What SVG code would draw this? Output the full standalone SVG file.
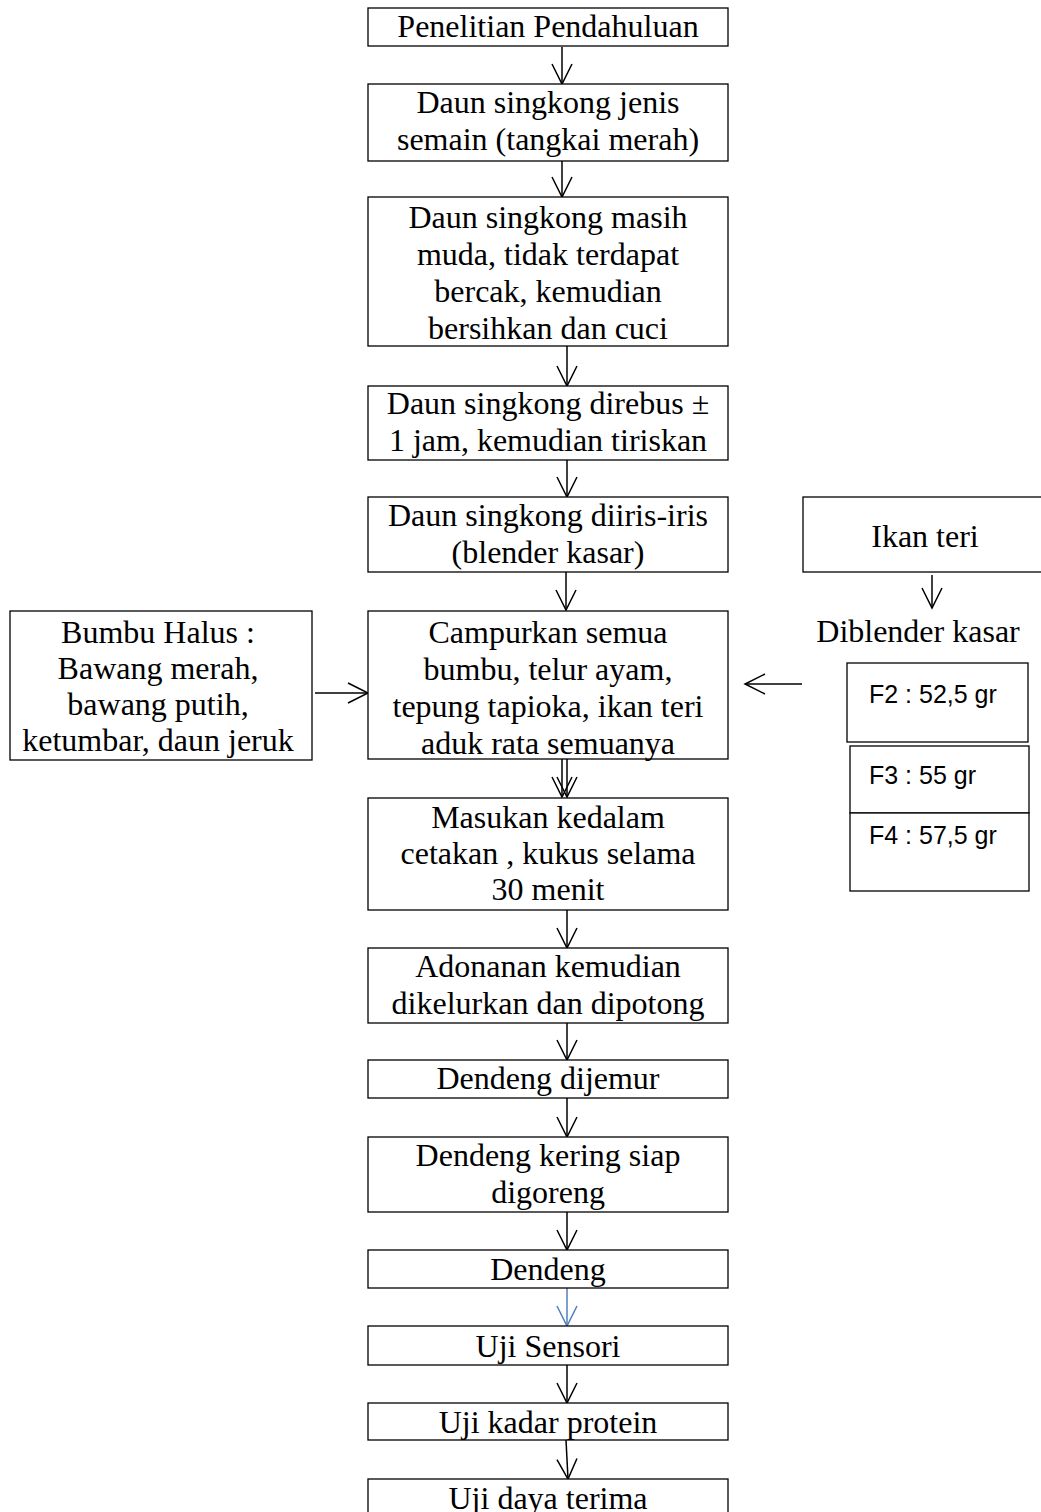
<svg xmlns="http://www.w3.org/2000/svg" width="1041" height="1512" viewBox="0 0 1041 1512">
<style>
.box{fill:#fff;stroke:#000;stroke-width:1.3}
.t{font-family:"Liberation Serif","Times New Roman",serif;font-size:32px;fill:#000;text-anchor:middle}
.s{font-family:"Liberation Sans",Arial,sans-serif;font-size:25px;fill:#000}
.c{fill:none;stroke:#000;stroke-width:1.5}
.cb{fill:none;stroke:#4f81bd;stroke-width:1.5}
</style>
<defs>
<marker id="ah" markerUnits="userSpaceOnUse" markerWidth="22" markerHeight="22" viewBox="0 0 22 22" refX="20" refY="11" orient="auto" overflow="visible">
<path d="M0,1 L20,11 L0,21" fill="none" stroke="#000" stroke-width="1.5"/>
</marker>
<marker id="ahb" markerUnits="userSpaceOnUse" markerWidth="22" markerHeight="22" viewBox="0 0 22 22" refX="20" refY="11" orient="auto" overflow="visible">
<path d="M0,1 L20,11 L0,21" fill="none" stroke="#4f81bd" stroke-width="1.5"/>
</marker>
</defs>
<rect width="1041" height="1512" fill="#fff"/>

<g id="connectors">
<line class="c" x1="562" y1="47" x2="562" y2="84" marker-end="url(#ah)"/>
<line class="c" x1="562" y1="161" x2="562" y2="197" marker-end="url(#ah)"/>
<line class="c" x1="567" y1="346" x2="567" y2="386" marker-end="url(#ah)"/>
<line class="c" x1="567" y1="460" x2="567" y2="497" marker-end="url(#ah)"/>
<line class="c" x1="566" y1="572" x2="566" y2="610" marker-end="url(#ah)"/>
<line class="c" x1="562" y1="759" x2="562" y2="797" marker-end="url(#ah)"/>
<line class="c" x1="567" y1="759" x2="567" y2="797" marker-end="url(#ah)"/>
<line class="c" x1="567" y1="910" x2="567" y2="948" marker-end="url(#ah)"/>
<line class="c" x1="567" y1="1023" x2="567" y2="1060" marker-end="url(#ah)"/>
<line class="c" x1="567" y1="1098" x2="567" y2="1137" marker-end="url(#ah)"/>
<line class="c" x1="567" y1="1212" x2="567" y2="1250" marker-end="url(#ah)"/>
<line class="cb" x1="567" y1="1288" x2="567" y2="1326" marker-end="url(#ahb)"/>
<line class="c" x1="567" y1="1365" x2="567" y2="1403" marker-end="url(#ah)"/>
<line class="c" x1="566" y1="1440" x2="568" y2="1479" marker-end="url(#ah)"/>
<line class="c" x1="315" y1="693" x2="368" y2="693" marker-end="url(#ah)"/>
<line class="c" x1="802" y1="684" x2="745" y2="684" marker-end="url(#ah)"/>
<line class="c" x1="932" y1="575" x2="932" y2="608" marker-end="url(#ah)"/>
</g>

<g id="n1">
<rect class="box" x="368" y="8" width="360" height="38"/>
<text class="t" x="548" y="37">Penelitian Pendahuluan</text>
</g>
<g id="n2">
<rect class="box" x="368" y="84" width="360" height="77"/>
<text class="t" x="548" y="113">Daun singkong jenis</text>
<text class="t" x="548" y="150">semain (tangkai merah)</text>
</g>
<g id="n3">
<rect class="box" x="368" y="197" width="360" height="149"/>
<text class="t" x="548" y="228">Daun singkong masih</text>
<text class="t" x="548" y="265">muda, tidak terdapat</text>
<text class="t" x="548" y="302">bercak, kemudian</text>
<text class="t" x="548" y="339">bersihkan dan cuci</text>
</g>
<g id="n4">
<rect class="box" x="368" y="386" width="360" height="74"/>
<text class="t" x="548" y="414">Daun singkong direbus ±</text>
<text class="t" x="548" y="451">1 jam, kemudian tiriskan</text>
</g>
<g id="n5">
<rect class="box" x="368" y="497" width="360" height="75"/>
<text class="t" x="548" y="526">Daun singkong diiris-iris</text>
<text class="t" x="548" y="563">(blender kasar)</text>
</g>
<g id="n6">
<rect class="box" x="368" y="611" width="360" height="148"/>
<text class="t" x="548" y="643">Campurkan semua</text>
<text class="t" x="548" y="680">bumbu, telur ayam,</text>
<text class="t" x="548" y="717">tepung tapioka, ikan teri</text>
<text class="t" x="548" y="754">aduk rata semuanya</text>
</g>
<g id="n7">
<rect class="box" x="368" y="798" width="360" height="112"/>
<text class="t" x="548" y="828">Masukan kedalam</text>
<text class="t" x="548" y="864">cetakan , kukus selama</text>
<text class="t" x="548" y="900">30 menit</text>
</g>
<g id="n8">
<rect class="box" x="368" y="948" width="360" height="75"/>
<text class="t" x="548" y="977">Adonanan kemudian</text>
<text class="t" x="548" y="1014">dikelurkan dan dipotong</text>
</g>
<g id="n9">
<rect class="box" x="368" y="1060" width="360" height="38"/>
<text class="t" x="548" y="1089">Dendeng dijemur</text>
</g>
<g id="n10">
<rect class="box" x="368" y="1137" width="360" height="75"/>
<text class="t" x="548" y="1166">Dendeng kering siap</text>
<text class="t" x="548" y="1203">digoreng</text>
</g>
<g id="n11">
<rect class="box" x="368" y="1250" width="360" height="38"/>
<text class="t" x="548" y="1280">Dendeng</text>
</g>
<g id="n12">
<rect class="box" x="368" y="1326" width="360" height="39"/>
<text class="t" x="548" y="1357">Uji Sensori</text>
</g>
<g id="n13">
<rect class="box" x="368" y="1403" width="360" height="37"/>
<text class="t" x="548" y="1433">Uji kadar protein</text>
</g>
<g id="n14">
<rect class="box" x="368" y="1479" width="360" height="50"/>
<text class="t" x="548" y="1509">Uji daya terima</text>
</g>
<g id="bumbu">
<rect class="box" x="10" y="611" width="302" height="149"/>
<text class="t" x="158" y="643">Bumbu Halus :</text>
<text class="t" x="158" y="679">Bawang merah,</text>
<text class="t" x="158" y="715">bawang putih,</text>
<text class="t" x="158" y="751">ketumbar, daun jeruk</text>
</g>
<g id="ikan">
<rect class="box" x="803" y="497" width="250" height="75"/>
<text class="t" x="925" y="547">Ikan teri</text>
</g>
<g id="diblender">
<text class="t" x="918" y="642">Diblender kasar</text>
</g>
<g id="f2">
<rect class="box" x="847" y="663" width="181" height="79"/>
<text class="s" x="869" y="703">F2 : 52,5 gr</text>
</g>
<g id="f3">
<rect class="box" x="850" y="746" width="179" height="67"/>
<text class="s" x="869" y="784">F3 : 55 gr</text>
</g>
<g id="f4">
<rect class="box" x="850" y="813" width="179" height="78"/>
<text class="s" x="869" y="844">F4 : 57,5 gr</text>
</g>
</svg>
